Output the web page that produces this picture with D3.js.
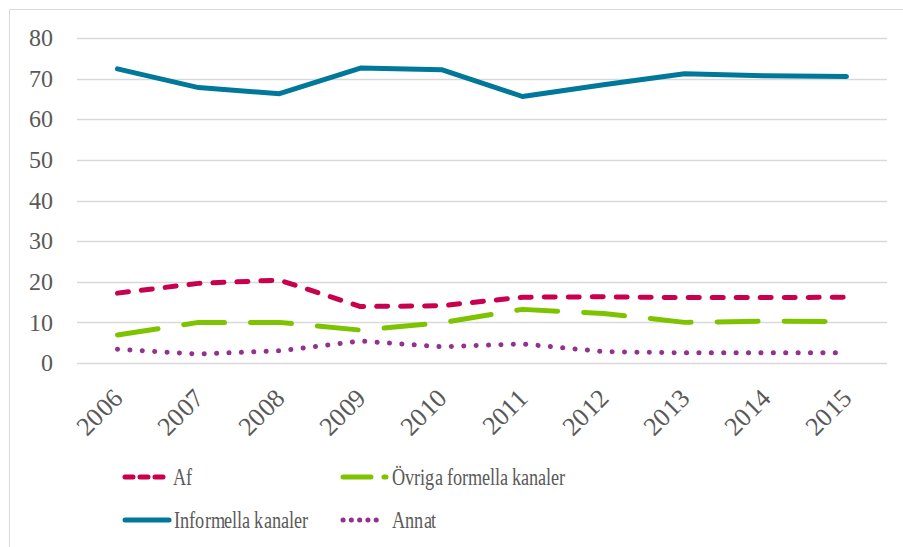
<!DOCTYPE html>
<html>
<head>
	<meta charset="UTF-8">
	<script type="text/javascript" src="https://cdn.jsdelivr.net/npm/d3@7"></script>
	<style>
		@font-face {
			font-family: "ChartSerif";
			src: local("Liberation Serif"), local("LiberationSerif"), local("LiberationSerif-Regular");
		}
	</style>
</head>
<body style="margin:0">

<svg id="chart" width="903" height="547"></svg>

<script type="text/javascript">
	// data
	var years = ["2006", "2007", "2008", "2009", "2010", "2011", "2012", "2013", "2014", "2015"]
	var af = [17.2, 19.6, 20.4, 13.9, 14.1, 16.2, 16.3, 16.1, 16.1, 16.2]
	var ovriga = [6.9, 10.0, 10.0, 8.1, 9.9, 13.2, 12.2, 10.0, 10.3, 10.2]
	var informella = [72.4, 67.8, 66.3, 72.6, 72.2, 65.6, 68.5, 71.2, 70.7, 70.5]
	var annat = [3.4, 2.2, 3.0, 5.4, 4.0, 4.7, 2.8, 2.5, 2.5, 2.5]
	var yTicks = [0, 10, 20, 30, 40, 50, 60, 70, 80]

	var series = [
		{ name: "Af", values: af, color: "#c8004e", dash: "11,13", legendDash: "8,7" },
		{ name: "Övriga formella kanaler", values: ovriga, color: "#7dc300", dash: "41,26", legendDash: "28,13" },
		{ name: "Informella kanaler", values: informella, color: "#00789a", dash: null, legendDash: null },
		{ name: "Annat", values: annat, color: "#93328e", dash: "0.1,12.3", legendDash: "0.1,8.2" }
	]

	var font = "ChartSerif, 'Liberation Serif', 'Times New Roman', serif"

	var svg = d3.select("#chart")
		.style("display", "block")
		.attr("font-family", font)

	// outer frame (only left and top are visible)
	svg.append("path")
		.attr("d", "M9.5,547V9.5H903")
		.attr("fill", "none")
		.attr("stroke", "#d9d9d9")
		.attr("stroke-width", 1)

	var plotLeft = 77, plotRight = 887, plotTop = 38, plotBottom = 363

	var x = d3.scalePoint()
		.domain(years)
		.range([plotLeft, plotRight])
		.padding(0.5)

	var y = d3.scaleLinear()
		.domain([0, 80])
		.range([plotBottom, plotTop])

	// gridlines
	svg.append("g")
		.selectAll("line")
		.data(yTicks)
		.enter()
		.append("line")
		.attr("x1", plotLeft)
		.attr("x2", plotRight)
		.attr("y1", function(d) { return Math.round(y(d)) + 0.5; })
		.attr("y2", function(d) { return Math.round(y(d)) + 0.5; })
		.attr("stroke", "#d9d9d9")
		.attr("stroke-width", 1.5)

	// y axis labels
	var yAxis = d3.axisLeft(y).tickValues(yTicks).tickSize(0).tickPadding(24)
	var gy = svg.append("g")
		.attr("transform", "translate(" + plotLeft + ",0)")
		.call(yAxis)
		.attr("font-family", font)
	gy.select(".domain").remove()
	gy.selectAll("text")
		.attr("fill", "#595959")
		.attr("font-family", font)
		.style("font-family", font)
		.style("font-size", "24px")

	// x axis labels, rotated
	var xAxis = d3.axisBottom(x).tickSize(0).tickPadding(0)
	var gx = svg.append("g")
		.attr("transform", "translate(0," + plotBottom + ")")
		.call(xAxis)
		.attr("font-family", font)
	gx.select(".domain").remove()
	gx.selectAll("text")
		.attr("fill", "#595959")
		.attr("text-anchor", "end")
		.attr("dy", "0")
		.attr("transform", "translate(6,37) rotate(-45)")
		.attr("font-family", font)
		.style("font-family", font)
		.style("font-size", "26px")

	// lines
	var line = d3.line()
		.x(function(d, i) { return x(years[i]); })
		.y(function(d) { return y(d); })

	svg.append("g")
		.selectAll("path")
		.data(series)
		.enter()
		.append("path")
		.attr("d", function(d) { return line(d.values); })
		.attr("fill", "none")
		.attr("stroke", function(d) { return d.color; })
		.attr("stroke-width", 5)
		.attr("stroke-linecap", "round")
		.attr("stroke-linejoin", "round")
		.attr("stroke-dasharray", function(d) { return d.dash; })

	// legend
	var legendPos = [
		{ x: 123, y: 477, w: 44, tx: 50 },
		{ x: 341, y: 477, w: 47, tx: 51 },
		{ x: 123, y: 520, w: 48, tx: 51 },
		{ x: 341, y: 520, w: 44, tx: 51 }
	]

	var legend = svg.append("g")
		.selectAll("g")
		.data(series)
		.enter()
		.append("g")
		.attr("transform", function(d, i) { return "translate(" + legendPos[i].x + "," + legendPos[i].y + ")"; })

	legend.append("line")
		.attr("x1", 2)
		.attr("x2", function(d, i) { return legendPos[i].w - 2; })
		.attr("stroke", function(d) { return d.color; })
		.attr("stroke-width", 5)
		.attr("stroke-linecap", "round")
		.attr("stroke-dasharray", function(d) { return d.legendDash; })

	// the reference text is narrow, so squeeze it horizontally
	legend.append("text")
		.attr("transform", function(d, i) { return "translate(" + legendPos[i].tx + ",0) scale(0.76,1)"; })
		.attr("dy", "0.33em")
		.attr("fill", "#595959")
		.attr("font-family", font)
		.style("font-family", font)
		.style("font-size", "24px")
		.text(function(d) { return d.name; })
</script>

</body>
</html>
